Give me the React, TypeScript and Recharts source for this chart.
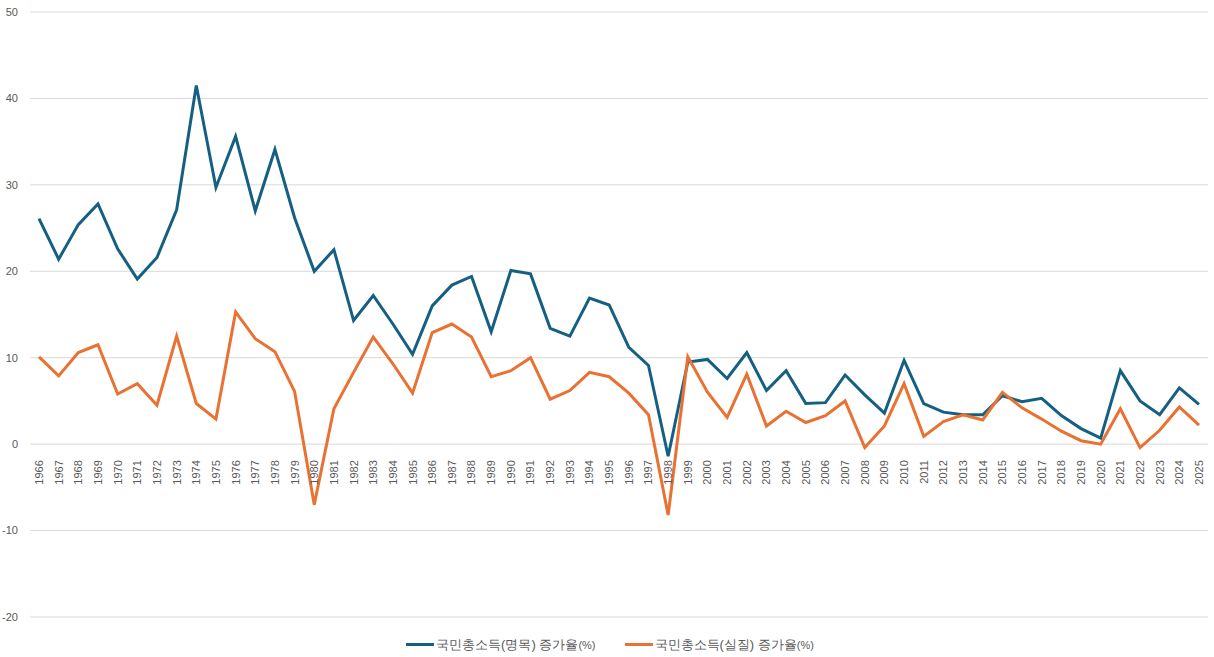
import { LineChart, Line, XAxis, YAxis, CartesianGrid, Legend } from 'recharts';

// 연도
const years = [
  1966, 1967, 1968, 1969, 1970, 1971, 1972, 1973, 1974, 1975,
  1976, 1977, 1978, 1979, 1980, 1981, 1982, 1983, 1984, 1985,
  1986, 1987, 1988, 1989, 1990, 1991, 1992, 1993, 1994, 1995,
  1996, 1997, 1998, 1999, 2000, 2001, 2002, 2003, 2004, 2005,
  2006, 2007, 2008, 2009, 2010, 2011, 2012, 2013, 2014, 2015,
  2016, 2017, 2018, 2019, 2020, 2021, 2022, 2023, 2024, 2025,
];

// 국민총소득(명목) 증가율(%)
const nominalGrowth = [
  26.1, 21.4, 25.4, 27.8, 22.6, 19.1, 21.6, 27.1, 41.5, 29.7,
  35.6, 27.0, 34.1, 26.2, 20.0, 22.5, 14.3, 17.2, 13.9, 10.4,
  16.0, 18.4, 19.4, 13.0, 20.1, 19.7, 13.4, 12.5, 16.9, 16.1,
  11.2, 9.1, -1.4, 9.5, 9.8, 7.6, 10.6, 6.2, 8.5, 4.7,
  4.8, 8.0, 5.7, 3.6, 9.7, 4.7, 3.7, 3.4, 3.4, 5.6,
  4.9, 5.3, 3.3, 1.8, 0.7, 8.5, 5.0, 3.4, 6.5, 4.6,
];

// 국민총소득(실질) 증가율(%)
const realGrowth = [
  10.1, 7.9, 10.6, 11.5, 5.8, 7.0, 4.5, 12.5, 4.7, 2.9,
  15.3, 12.2, 10.7, 6.1, -7.0, 4.1, 8.3, 12.4, 9.3, 5.9,
  12.9, 13.9, 12.4, 7.8, 8.5, 10.0, 5.2, 6.2, 8.3, 7.8,
  5.9, 3.4, -8.2, 10.1, 6.0, 3.1, 8.1, 2.1, 3.8, 2.5,
  3.3, 5.0, -0.4, 2.1, 7.0, 0.9, 2.6, 3.4, 2.8, 6.0,
  4.2, 2.9, 1.5, 0.4, 0.0, 4.1, -0.4, 1.6, 4.3, 2.2,
];

const yTicks = [-20, -10, 0, 10, 20, 30, 40, 50];

const chartData = years.map((year, i) => ({
  year,
  nominal: nominalGrowth[i],
  real: realGrowth[i],
}));

const WIDTH = 1214;
const HEIGHT = 657;
const PLOT_TOP = 12;
const PLOT_BOTTOM = 40; // 범례 + x축 포함 하단 여백
const LEGEND_H = 17;
const MARGIN = { top: PLOT_TOP, right: 6, bottom: PLOT_BOTTOM - LEGEND_H - 1, left: 0 };
const Y_MIN = -20;
const Y_MAX = 50;
const PLOT_H = HEIGHT - PLOT_TOP - PLOT_BOTTOM;
// x축 라벨은 0 기준선 바로 아래에 표시
const ZERO_SHIFT = (PLOT_H * (0 - Y_MIN)) / (Y_MAX - Y_MIN);

const FONT = '"Liberation Sans", Arial, sans-serif';

function YearTick({ x, y, payload }: any) {
  const ty = y - ZERO_SHIFT + 8;
  return (
    <text
      x={x}
      y={ty}
      transform={`rotate(-90, ${x}, ${ty})`}
      textAnchor="end"
      dy="0.36em"
      fill="#595959"
      fontSize={11}
      fontFamily={FONT}
    >
      {payload.value}
    </text>
  );
}

function LegendContent({ payload }: any) {
  return (
    <div
      style={{
        display: 'flex',
        justifyContent: 'center',
        gap: 29,
        paddingLeft: 12,
        fontFamily: FONT,
        height: LEGEND_H,
      }}
    >
      {payload.map((entry: any) => (
        <div key={entry.value} style={{ display: 'flex', alignItems: 'center' }}>
          <span style={{ display: 'inline-block', width: 28, height: 3, background: entry.color, marginRight: 2 }} />
          <span style={{ fontSize: 13, color: '#595959' }}>
            {entry.value.replace('(%)', '')}
            <span style={{ fontSize: 11 }}>(%)</span>
          </span>
        </div>
      ))}
    </div>
  );
}

export default function App() {
  return (
    <div style={{ position: 'absolute', left: 0, top: 0, width: WIDTH, height: HEIGHT, background: '#fff' }}>
      <LineChart width={WIDTH} height={HEIGHT} data={chartData} margin={MARGIN}>
        <CartesianGrid vertical={false} stroke="#d9d9d9" />
        <XAxis
          dataKey="year"
          height={1}
          axisLine={false}
          tickLine={false}
          interval={0}
          padding={{ left: 9, right: 9 }}
          tick={<YearTick />}
        />
        <YAxis
          width={30}
          domain={[Y_MIN, Y_MAX]}
          ticks={yTicks}
          axisLine={false}
          tickLine={false}
          tickSize={0}
          tickMargin={12}
          tick={{ fill: '#595959', fontSize: 11, fontFamily: FONT }}
        />
        <Legend
          verticalAlign="bottom"
          content={<LegendContent />}
          wrapperStyle={{ bottom: 4 }}
        />
        <Line
          type="linear"
          dataKey="nominal"
          name="국민총소득(명목) 증가율(%)"
          stroke="#156082"
          strokeWidth={3}
          dot={false}
          isAnimationActive={false}
        />
        <Line
          type="linear"
          dataKey="real"
          name="국민총소득(실질) 증가율(%)"
          stroke="#E97132"
          strokeWidth={3}
          dot={false}
          isAnimationActive={false}
        />
      </LineChart>
    </div>
  );
}
